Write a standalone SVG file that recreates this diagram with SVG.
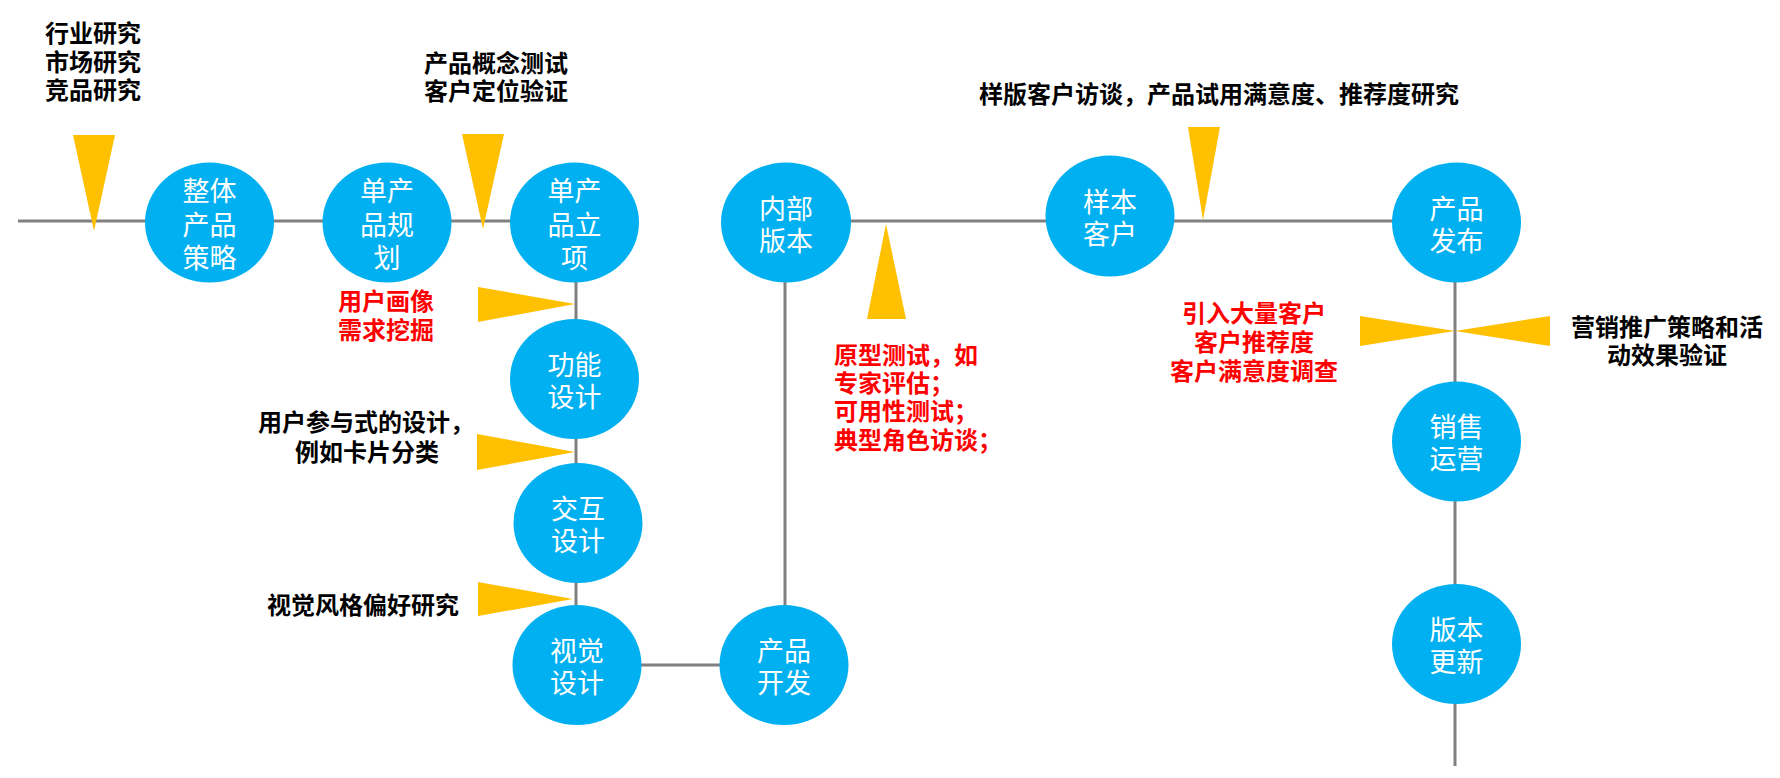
<svg xmlns="http://www.w3.org/2000/svg" width="1780" height="778" viewBox="0 0 1780 778">
<style>
.ln{stroke:#808080;stroke-width:3;fill:none}
.nd{fill:#00B0F0}
.nt{fill:#FFFFFF;font-family:"Noto Sans CJK SC","Noto Sans",sans-serif;font-size:27px;text-anchor:middle;dominant-baseline:central}
.tri{fill:#FFC000}
.an{font-family:"Noto Sans CJK SC","Noto Sans",sans-serif;font-size:24px;font-weight:bold;dominant-baseline:central}
.blk{fill:#000000}
.red{fill:#FF0000}
.mid{text-anchor:middle}
</style>
<rect width="1780" height="778" fill="#FFFFFF"/>
<g id="connectors">
<line class="ln" x1="18" y1="221" x2="575" y2="221"/>
<line class="ln" x1="786" y1="221" x2="1456" y2="221"/>
<line class="ln" x1="576" y1="222" x2="576" y2="665"/>
<line class="ln" x1="577" y1="665" x2="784" y2="665"/>
<line class="ln" x1="785" y1="222" x2="785" y2="665"/>
<line class="ln" x1="1455" y1="222" x2="1455" y2="766"/>
</g>
<g id="markers">
<polygon class="tri" points="73,135 115,135 94,231"/>
<polygon class="tri" points="462,134 504,134 483,229"/>
<polygon class="tri" points="478,287 478,322 575,304"/>
<polygon class="tri" points="477,434 477,470 575,452"/>
<polygon class="tri" points="478,582 478,616 573,599"/>
<polygon class="tri" points="867,319 906,319 886,224"/>
<polygon class="tri" points="1188,127 1220,127 1203,220"/>
<polygon class="tri" points="1360,316 1360,346 1455,331"/>
<polygon class="tri" points="1550,316 1550,346 1455,331"/>
</g>
<g id="n1"><ellipse class="nd" cx="209.5" cy="222.5" rx="64.5" ry="60"/><text class="nt" x="209.5" y="189">整体</text><text class="nt" x="209.5" y="223">产品</text><text class="nt" x="209.5" y="256">策略</text></g>
<g id="n2"><ellipse class="nd" cx="387" cy="222.5" rx="64.5" ry="60"/><text class="nt" x="387" y="189">单产</text><text class="nt" x="387" y="223">品规</text><text class="nt" x="387" y="256">划</text></g>
<g id="n3"><ellipse class="nd" cx="574.5" cy="222.5" rx="64.5" ry="60"/><text class="nt" x="574.5" y="189">单产</text><text class="nt" x="574.5" y="223">品立</text><text class="nt" x="574.5" y="256">项</text></g>
<g id="n4"><ellipse class="nd" cx="574.5" cy="379" rx="64.5" ry="60"/><text class="nt" x="574.5" y="363">功能</text><text class="nt" x="574.5" y="395">设计</text></g>
<g id="n5"><ellipse class="nd" cx="578" cy="523" rx="64.5" ry="60"/><text class="nt" x="578" y="507">交互</text><text class="nt" x="578" y="539">设计</text></g>
<g id="n6"><ellipse class="nd" cx="577" cy="665" rx="64.5" ry="60"/><text class="nt" x="577" y="649">视觉</text><text class="nt" x="577" y="681">设计</text></g>
<g id="n7"><ellipse class="nd" cx="784" cy="665" rx="64.5" ry="60"/><text class="nt" x="784" y="649">产品</text><text class="nt" x="784" y="681">开发</text></g>
<g id="n8"><ellipse class="nd" cx="786" cy="222.5" rx="65" ry="60"/><text class="nt" x="786" y="207">内部</text><text class="nt" x="786" y="239">版本</text></g>
<g id="n9"><ellipse class="nd" cx="1110" cy="216" rx="64.5" ry="60.5"/><text class="nt" x="1110" y="200">样本</text><text class="nt" x="1110" y="232">客户</text></g>
<g id="n10"><ellipse class="nd" cx="1456.5" cy="222.5" rx="64.5" ry="60"/><text class="nt" x="1456.5" y="207">产品</text><text class="nt" x="1456.5" y="239">发布</text></g>
<g id="n11"><ellipse class="nd" cx="1456.5" cy="441.5" rx="64.5" ry="60"/><text class="nt" x="1456.5" y="425">销售</text><text class="nt" x="1456.5" y="457">运营</text></g>
<g id="n12"><ellipse class="nd" cx="1456.5" cy="644" rx="64.5" ry="60"/><text class="nt" x="1456.5" y="628">版本</text><text class="nt" x="1456.5" y="660">更新</text></g>
<g id="annotations">
<text class="an blk" x="45" y="31">行业研究</text><text class="an blk" x="45" y="60">市场研究</text><text class="an blk" x="45" y="88">竞品研究</text>
<text class="an blk" x="424" y="61">产品概念测试</text><text class="an blk" x="424" y="89">客户定位验证</text>
<text class="an red" x="338" y="299">用户画像</text><text class="an red" x="338" y="328">需求挖掘</text>
<text class="an blk mid" x="366" y="420">用户参与式的设计，</text><text class="an blk mid" x="367" y="450">例如卡片分类</text>
<text class="an blk" x="267" y="603">视觉风格偏好研究</text>
<text class="an red" x="834" y="353">原型测试，如</text><text class="an red" x="834" y="381">专家评估；</text><text class="an red" x="834" y="409">可用性测试；</text><text class="an red" x="834" y="438">典型角色访谈；</text>
<text class="an blk" x="979" y="92">样版客户访谈，产品试用满意度、推荐度研究</text>
<text class="an red mid" x="1254" y="311">引入大量客户</text><text class="an red mid" x="1254" y="340">客户推荐度</text><text class="an red mid" x="1254" y="369">客户满意度调查</text>
<text class="an blk mid" x="1667" y="325">营销推广策略和活</text><text class="an blk mid" x="1667" y="353">动效果验证</text>
</g>
</svg>
